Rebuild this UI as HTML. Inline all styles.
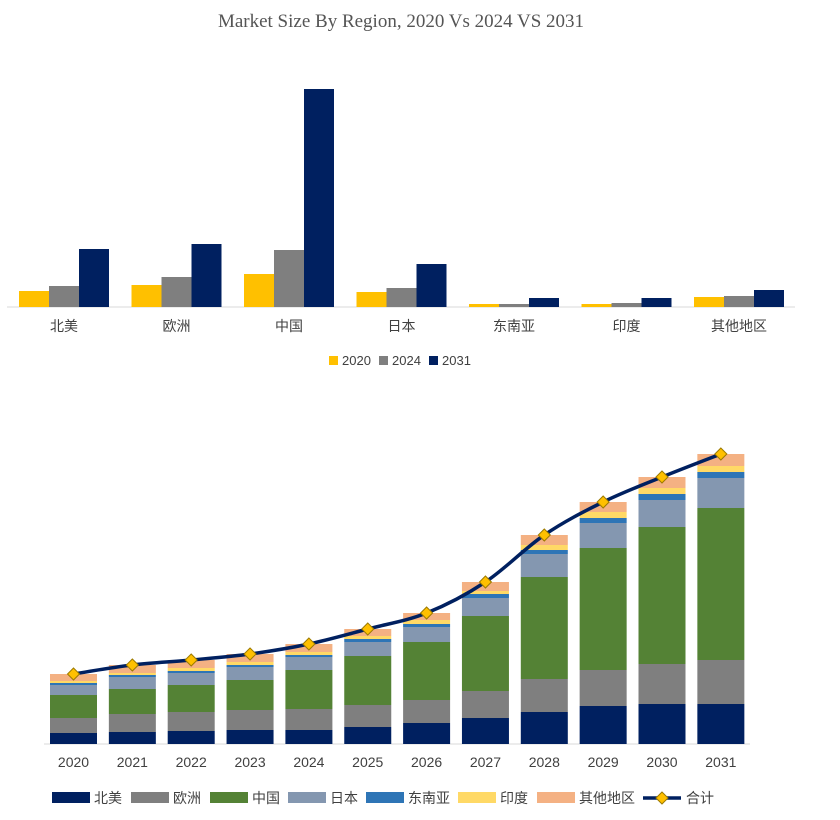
<!DOCTYPE html>
<html><head><meta charset="utf-8"><style>
body{margin:0;background:#fff;}
svg{display:block;font-family:"Liberation Sans","Noto Sans CJK SC",sans-serif;}
</style></head><body>
<svg id="c" width="840" height="820" viewBox="0 0 840 820" xmlns="http://www.w3.org/2000/svg">
<text x="401" y="27" text-anchor="middle" font-family="Liberation Serif, serif" font-size="19" fill="#555">Market Size By Region, 2020 Vs 2024 VS 2031</text>
<g id="topChart"></g><g id="botChart"></g>
</svg>
<script>
const regions=['北美','欧洲','中国','日本','东南亚','印度','其他地区'];
const topYears=['2020','2024','2031'];
const v2020=[16,22,33,15,3,3,10];
const v2024=[21,30,57,19,3,4,11];
const v2031=[58,63,218,43,9,9,17];
const years=['2020','2021','2022','2023','2024','2025','2026','2027','2028','2029','2030','2031'];
const sNA=[11,12,13,14,14,17,21,26,32,38,40,40];
const sEU=[15,18,19,20,21,22,23,27,33,36,40,44];
const sCN=[23,25,27,30,39,49,58,75,102,122,137,152];
const sJP=[10,12,12,13,13,14,15,18,23,25,27,30];
const sSEA=[2,2,2,2,2,3,3,4,4,5,6,6];
const sIN=[2,2,3,3,3,3,4,3,5,6,6,6];
const sOT=[7,8,8,8,8,7,7,9,10,10,11,12];
const NS='http://www.w3.org/2000/svg';
function mk(t,a,p){const e=document.createElementNS(NS,t);for(const k in a)e.setAttribute(k,a[k]);p.appendChild(e);return e;}
const gTop=document.getElementById('topChart'),gBot=document.getElementById('botChart');
const tBase=307,tScale=1;
const tx=i=>64+i*112.5;
const ty=v=>tBase-v*tScale;
const topSeries=[v2020,v2024,v2031],topCols=['#FFC000','#7F7F7F','#002060'];
let ax=mk('line',{x1:7,x2:795,y1:tBase,y2:tBase,stroke:'#d9d9d9'},gTop);


regions.forEach((r,i)=>{
  topSeries.forEach((s,j)=>{
    const b=mk('rect',{x:tx(i)-45+j*30,y:ty(s[i]),width:30,height:s[i]*tScale,fill:topCols[j]},gTop);
    
    
  });
  const t=mk('text',{x:tx(i),y:331,'text-anchor':'middle','font-size':14,fill:'#404040'},gTop);t.textContent=r;
  
  
});
topYears.forEach((y,j)=>{
  const g=mk('g',{},gTop);
  
  
  mk('rect',{x:329+j*50,y:356,width:9,height:9,fill:topCols[j]},g);
  const t=mk('text',{x:342+j*50,y:365,'font-size':13,fill:'#404040'},g);t.textContent=y;
});
const bBase=744,bScale=1;
const bx=i=>73.5+i*58.85;
const by=v=>bBase-v*bScale;
const stacks=[sNA,sEU,sCN,sJP,sSEA,sIN,sOT];
const bCols=['#002060','#7F7F7F','#548235','#8497B0','#2E75B6','#FFD966','#F4B183'];
ax=mk('line',{x1:44,x2:750,y1:bBase,y2:bBase,stroke:'#d9d9d9'},gBot);


const totals=[];
years.forEach((y,i)=>{
  let cum=0;
  stacks.forEach((s,k)=>{
    const b=mk('rect',{x:bx(i)-23.5,y:by(cum+s[i]),width:47,height:s[i]*bScale,fill:bCols[k]},gBot);
    
    
    cum+=s[i];
  });
  totals.push(cum);
  const t=mk('text',{x:bx(i),y:767,'text-anchor':'middle','font-size':14,fill:'#404040'},gBot);t.textContent=y;
  
  
});
const pts=totals.map((v,i)=>[bx(i),by(v)]);
let d='M'+pts[0][0]+','+pts[0][1];
for(let i=0;i<pts.length-1;i++){
  const p0=pts[Math.max(0,i-1)],p1=pts[i],p2=pts[i+1],p3=pts[Math.min(pts.length-1,i+2)];
  const c1=[p1[0]+(p2[0]-p0[0])/6,p1[1]+(p2[1]-p0[1])/6],c2=[p2[0]-(p3[0]-p1[0])/6,p2[1]-(p3[1]-p1[1])/6];
  d+=' C'+c1+' '+c2+' '+p2;
}
const ln=mk('path',{d:d,fill:'none',stroke:'#002060','stroke-width':3.5},gBot);


pts.forEach((p,i)=>{
  const m=mk('path',{d:`M${p[0]},${p[1]-6}L${p[0]+6},${p[1]}L${p[0]},${p[1]+6}L${p[0]-6},${p[1]}Z`,fill:'#FFC000',stroke:'#9C7A00','stroke-width':1},gBot);
  
  
});
const lg=[['北美',52],['欧洲',131],['中国',210],['日本',288],['东南亚',366],['印度',458],['其他地区',537]];
lg.forEach((l,k)=>{
  const g=mk('g',{},gBot);
  
  
  mk('rect',{x:l[1],y:792,width:38,height:11,fill:bCols[k]},g);
  const t=mk('text',{x:l[1]+42,y:803,'font-size':14,fill:'#404040'},g);t.textContent=l[0];
});
const g=mk('g',{},gBot);


mk('line',{x1:643,x2:681,y1:798,y2:798,stroke:'#002060','stroke-width':3.5},g);
mk('path',{d:'M662,792L668,798L662,804L656,798Z',fill:'#FFC000',stroke:'#9C7A00'},g);
const tt=mk('text',{x:686,y:803,'font-size':14,fill:'#404040'},g);tt.textContent='合计';
</script>
</body></html>
